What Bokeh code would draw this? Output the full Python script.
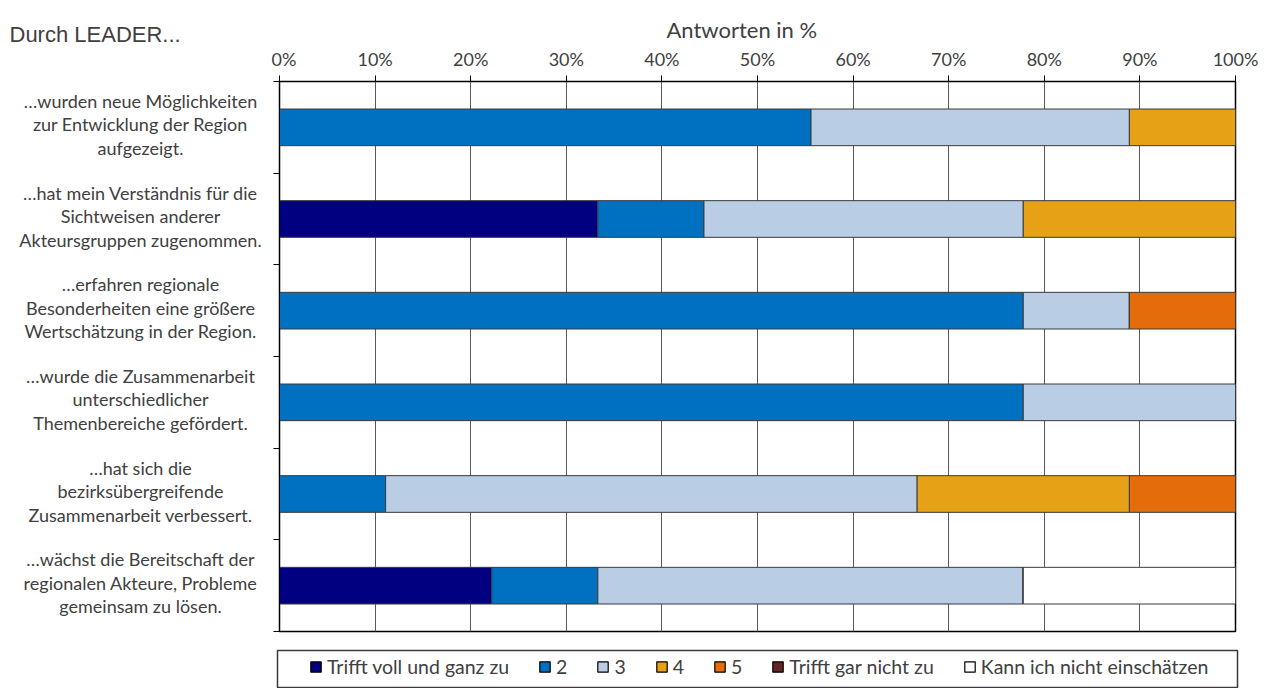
from bokeh.plotting import figure
from bokeh.layouts import column, row
from bokeh.models import (ColumnDataSource, FixedTicker, PrintfTickFormatter,
                          CustomJSTickFormatter, Legend, LegendItem, Range1d)
from bokeh.core.properties import value
from bokeh.embed import file_html
from bokeh.resources import INLINE

# Survey statements (top to bottom), each split into its display lines
statements = [
    ["…wurden neue Möglichkeiten", "zur Entwicklung der Region", "aufgezeigt."],
    ["…hat mein Verständnis für die", "Sichtweisen anderer", "Akteursgruppen zugenommen."],
    ["…erfahren regionale", "Besonderheiten eine größere", "Wertschätzung in der Region."],
    ["…wurde die Zusammenarbeit", "unterschiedlicher", "Themenbereiche gefördert."],
    ["…hat sich die", "bezirksübergreifende", "Zusammenarbeit verbessert."],
    ["…wächst die Bereitschaft der", "regionalen Akteure, Probleme", "gemeinsam zu lösen."],
]

answers = ["Trifft voll und ganz zu", "2", "3", "4", "5",
           "Trifft gar nicht zu", "Kann ich nicht einschätzen"]

# Share of answers in % per statement (same order as statements)
voll = [0.0, 33.3, 0.0, 0.0, 0.0, 22.2]
zwei = [55.6, 11.1, 77.8, 77.8, 11.1, 11.1]
drei = [33.3, 33.4, 11.1, 22.2, 55.6, 44.5]
vier = [11.1, 22.2, 0.0, 0.0, 22.2, 0.0]
fuenf = [0.0, 0.0, 11.1, 0.0, 11.1, 0.0]
gar_nicht = [0.0, 0.0, 0.0, 0.0, 0.0, 0.0]
weiss_nicht = [0.0, 0.0, 0.0, 0.0, 0.0, 22.2]

x_ticks = [0, 10, 20, 30, 40, 50, 60, 70, 80, 90, 100]

colors = ["#000080", "#0070C0", "#B9CDE5", "#E6A117", "#E46C0A", "#632523", "#FFFFFF"]

text_color = "#404040"
cal = "Lato"

n = len(statements)
ypos = [n - 0.5 - i for i in range(n)]
keys = ["voll", "zwei", "drei", "vier", "fuenf", "gar_nicht", "weiss_nicht"]

source = ColumnDataSource(dict(
    y=ypos, voll=voll, zwei=zwei, drei=drei, vier=vier, fuenf=fuenf,
    gar_nicht=gar_nicht, weiss_nicht=weiss_nicht,
))

# ---- geometry (pixels) ----
W, H = 1268, 688
frame_left, frame_right, frame_top, frame_bottom = 279, 1235, 81, 631
label_w = 271
top_h = 640
legend_top = 650

# ---- main bar chart ----
p = figure(width=W - label_w, height=top_h, x_range=(0, 100), y_range=(0, n),
           x_axis_location="above", output_backend="svg", toolbar_location=None,
           min_border_left=frame_left - label_w, min_border_right=W - frame_right,
           min_border_top=frame_top, min_border_bottom=top_h - frame_bottom)
p.background_fill_color = "white"
p.border_fill_color = "white"
p.outline_line_color = "black"
p.outline_line_width = 1.5

p.hbar_stack(keys, y="y", height=0.4, source=source,
             fill_color=colors, line_color="#3A3A3A", line_width=1)

p.title.text = "Antworten in %"
p.title.align = "left"
p.title.offset = 387
p.title.text_font = cal
p.title.text_font_style = "normal"
p.title.text_font_size = "22px"
p.title.text_color = text_color
p.title.standoff = 4

xa = p.xaxis[0]
xa.ticker = FixedTicker(ticks=x_ticks)
xa.formatter = PrintfTickFormatter(format="%d%%")
xa.major_label_text_font = cal
xa.major_label_text_font_size = "18px"
xa.major_label_text_color = text_color
xa.major_label_standoff = 6
xa.major_tick_out = 6
xa.major_tick_in = 0
xa.minor_tick_out = 0
xa.minor_tick_in = 0
xa.axis_line_color = "black"
xa.major_tick_line_color = "black"

# y axis: ticks at category boundaries only, labels drawn in the left column
ya = p.yaxis[0]
ya.ticker = FixedTicker(ticks=list(range(n + 1)))
ya.formatter = CustomJSTickFormatter(code="return ''")
ya.major_tick_out = 6
ya.major_tick_in = 0
ya.minor_tick_out = 0
ya.axis_line_color = "black"
ya.major_tick_line_color = "black"

p.ygrid.grid_line_color = None
p.xgrid.ticker = FixedTicker(ticks=x_ticks)
p.xgrid.grid_line_color = "#5A5A5A"
p.xgrid.grid_line_width = 1

# ---- heading above the statement column ----
head = figure(width=label_w, height=frame_top, title=None, output_backend="svg",
              toolbar_location=None, x_range=Range1d(0, label_w),
              y_range=Range1d(0, frame_top), x_axis_type=None, y_axis_type=None,
              min_border=0, min_border_left=0, min_border_right=0,
              min_border_top=0, min_border_bottom=0)
head.outline_line_color = None
head.grid.grid_line_color = None
head.text(x=[9], y=[frame_top - 34], text=["Durch LEADER..."],
          text_align="left", text_baseline="middle",
          text_font=value("Liberation Sans"), text_font_size="22px",
          text_color=text_color)

# ---- statement labels (left column, same vertical scale as the chart) ----
lab = figure(width=label_w, height=top_h - frame_top, title=None, output_backend="svg",
             toolbar_location=None, x_range=Range1d(0, label_w), y_range=p.y_range,
             x_axis_type=None, y_axis_type=None,
             min_border=0, min_border_left=0, min_border_right=0,
             min_border_top=0, min_border_bottom=top_h - frame_bottom)
lab.outline_line_color = None
lab.grid.grid_line_color = None

line_gap = 23.5
tx, ty, toff = [], [], []
for i, lines in enumerate(statements):
    for j, t in enumerate(lines):
        tx.append(t)
        ty.append(ypos[i])
        toff.append((j - (len(lines) - 1) / 2) * line_gap - 3)
lab.text(x=140, y=ty, text=tx, y_offset=toff, text_align="center",
         text_baseline="middle", text_font=value(cal), text_font_size="18px",
         text_color=text_color)

# ---- legend strip ----
leg_left, leg_right = 277, 1237
lg = figure(width=W, height=H - top_h, output_backend="svg", toolbar_location=None,
            x_range=(0, 1), y_range=(0, 1), x_axis_type=None, y_axis_type=None,
            min_border_left=leg_left, min_border_right=W - leg_right,
            min_border_top=legend_top - top_h, min_border_bottom=0)
lg.outline_line_color = "#3A3A3A"
lg.outline_line_width = 1.5
lg.grid.grid_line_color = None

# one proxy bar per answer (kept below the visible range) so the legend has swatches
items = []
for a, c in zip(answers, colors):
    r = lg.hbar(y=[-5], left=[0], right=[0.1], height=0.4,
                fill_color=c, line_color="black", line_width=1.2)
    items.append(LegendItem(label=a, renderers=[r]))
legend = Legend(items=items, orientation="horizontal",
                location=(309 - leg_left, 10),
                padding=0, margin=0, spacing=29, label_standoff=5,
                glyph_width=13, glyph_height=13, label_width=0, label_height=20,
                label_text_font=cal, label_text_font_size="19.5px",
                label_text_color=text_color,
                border_line_alpha=0, background_fill_alpha=0)
lg.add_layout(legend, "center")

layout = column(row(column(head, lab, spacing=0), p, spacing=0), lg, spacing=0)
open("out.html", "w").write(file_html(layout, INLINE))
